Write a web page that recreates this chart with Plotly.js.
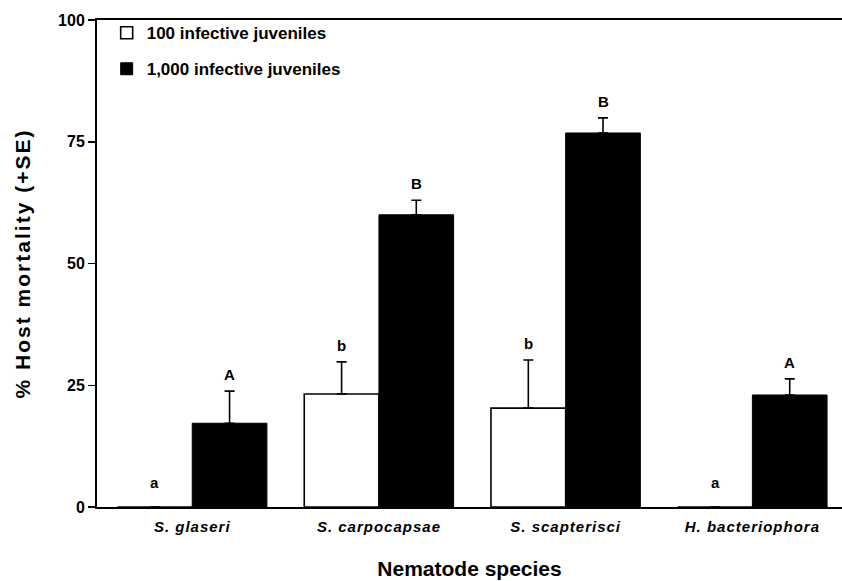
<!DOCTYPE html>
<html>
<head>
<meta charset="utf-8">
<script src="https://cdn.plot.ly/plotly-3.0.1.min.js"></script>
<style>
html,body{margin:0;padding:0;background:#fff;}
#chart{width:842px;height:581px;}
#chart .ytitle{letter-spacing:2px;}
#chart .xtick text{letter-spacing:1px;}
</style>
</head>
<body>
<div id="chart"></div>
<script>
// Data
const species = ['S. glaseri', 'S. carpocapsae', 'S. scapterisci', 'H. bacteriophora'];
const speciesLabels = ['<i>S. glaseri</i>', '<i>S. carpocapsae</i>', '<i>S. scapterisci</i>', '<i>H. bacteriophora</i>'];
const mort100 = [0, 23.2, 20.3, 0];
const se100 = [0, 6.6, 9.9, 0];
const mort1000 = [17.2, 60.0, 76.8, 23.0];
const se1000 = [6.6, 3.0, 3.1, 3.3];
const letters100 = ['a', 'b', 'b', 'a'];
const letters1000 = ['A', 'B', 'B', 'A'];
const seriesNames = ['100 infective juveniles', '1,000 infective juveniles'];
const yTicks = [0, 25, 50, 75, 100];

const FONT = 'Liberation Sans, Arial, Helvetica, sans-serif';
const zeros = species.map(() => 0);

const traces = [
  {
    type: 'bar', name: seriesNames[0], x: species, y: mort100,
    marker: {color: '#ffffff', line: {color: '#000000', width: 1.6}},
    error_y: {type: 'data', symmetric: false, array: se100, arrayminus: zeros,
              visible: true, color: '#000000', thickness: 1.6, width: 5},
    legendgroup: 'g1', hoverinfo: 'none'
  },
  {
    type: 'bar', name: seriesNames[1], x: species, y: mort1000,
    marker: {color: '#000000', line: {color: '#000000', width: 1}},
    error_y: {type: 'data', symmetric: false, array: se1000, arrayminus: zeros,
              visible: true, color: '#000000', thickness: 1.6, width: 5},
    legendgroup: 'g2', hoverinfo: 'none'
  }
];

const annotations = [];
species.forEach((s, i) => {
  const top100 = mort100[i] + se100[i];
  annotations.push({
    x: i - 0.2, y: top100, xref: 'x', yref: 'y', text: '<b>' + letters100[i] + '</b>',
    showarrow: false, yanchor: 'bottom', yshift: top100 > 0 ? 6 : 14,
    font: {family: FONT, size: 15, color: '#000'}
  });
  const top1000 = mort1000[i] + se1000[i];
  annotations.push({
    x: i + 0.2, y: top1000, xref: 'x', yref: 'y', text: '<b>' + letters1000[i] + '</b>',
    showarrow: false, yanchor: 'bottom', yshift: 6,
    font: {family: FONT, size: 15, color: '#000'}
  });
});

const layout = {
  width: 842, height: 581,
  margin: {l: 97, r: 0, t: 20, b: 74, pad: 0},
  paper_bgcolor: '#ffffff', plot_bgcolor: '#ffffff',
  font: {family: FONT, color: '#000000'},
  barmode: 'group', bargap: 0.2, bargroupgap: 0,
  showlegend: true,
  legend: {
    x: 0.013, y: 1.01, xanchor: 'left', yanchor: 'top',
    bgcolor: 'rgba(0,0,0,0)', traceorder: 'grouped', tracegroupgap: 11,
    font: {family: FONT, size: 17, color: '#000', weight: 'bold'}
  },
  xaxis: {
    type: 'category', range: [-0.51, 3.48],
    tickvals: species, ticktext: speciesLabels,
    showline: true, linecolor: '#000', linewidth: 2, mirror: true,
    ticks: '', showgrid: false, zeroline: false, ticklabelstandoff: 5,
    tickfont: {family: FONT, size: 15, color: '#000', weight: 'bold'},
    title: {text: '<b>Nematode species</b>', standoff: 27,
            font: {family: FONT, size: 21, color: '#000'}},
    automargin: false, fixedrange: true
  },
  yaxis: {
    range: [0, 100], tickvals: yTicks, ticktext: yTicks.map(String),
    showline: true, linecolor: '#000', linewidth: 2, mirror: false,
    ticks: 'outside', ticklen: 7, tickwidth: 1.5, tickcolor: '#000',
    showgrid: false, zeroline: false,
    tickfont: {family: FONT, size: 16, color: '#000', weight: 'bold'},
    title: {text: '<b>% Host mortality (+SE)</b>', standoff: 22,
            font: {family: FONT, size: 21, color: '#000'}},
    automargin: false, fixedrange: true
  },
  annotations: annotations
};

Plotly.newPlot('chart', traces, layout, {displayModeBar: false, staticPlot: true});
</script>
</body>
</html>
